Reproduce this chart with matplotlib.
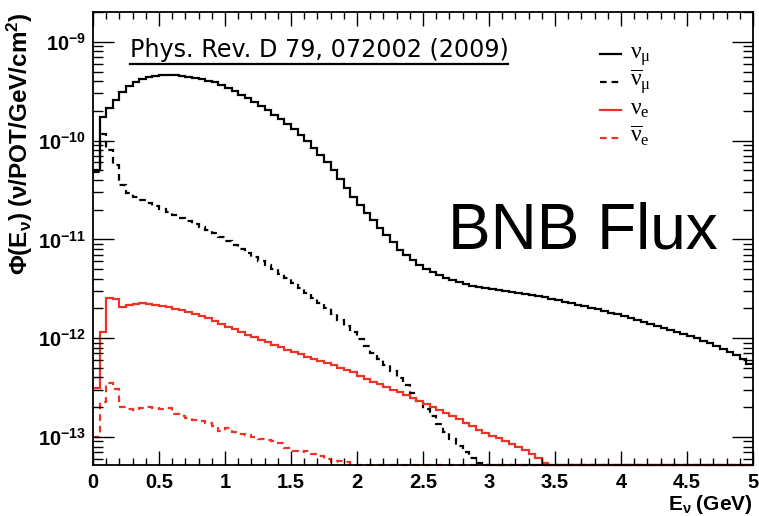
import matplotlib.pyplot as plt
import matplotlib.lines as mlines
import numpy as np

plt.rcParams['font.family'] = 'Liberation Sans'
plt.rcParams['mathtext.fontset'] = 'custom'
plt.rcParams['mathtext.rm'] = 'Liberation Serif'
plt.rcParams['mathtext.it'] = 'Liberation Serif:italic'
plt.rcParams['mathtext.bf'] = 'Liberation Sans:bold'
plt.rcParams['mathtext.default'] = 'rm'

# flux per 0.05 GeV bin, 0 - 5 GeV (zero = empty bin)
numu = [5.06e-11, 1.74e-10, 2.15e-10, 2.59e-10, 3.12e-10, 3.58e-10, 3.94e-10, 4.22e-10, 4.42e-10, 4.53e-10,
        4.63e-10, 4.63e-10, 4.63e-10, 4.53e-10, 4.42e-10, 4.32e-10, 4.22e-10, 4.03e-10, 3.94e-10, 3.67e-10,
        3.42e-10, 3.19e-10, 2.91e-10, 2.71e-10, 2.47e-10, 2.25e-10, 2.05e-10, 1.82e-10, 1.66e-10, 1.48e-10,
        1.32e-10, 1.14e-10, 9.94e-11, 8.45e-11, 7.18e-11, 6.10e-11, 5.06e-11, 4.10e-11, 3.32e-11, 2.69e-11,
        2.24e-11, 1.85e-11, 1.57e-11, 1.31e-11, 1.11e-11, 9.43e-12, 7.83e-12, 6.97e-12, 6.20e-12, 5.52e-12,
        5.03e-12, 4.69e-12, 4.37e-12, 4.08e-12, 3.89e-12, 3.71e-12, 3.54e-12, 3.38e-12, 3.30e-12, 3.23e-12,
        3.15e-12, 3.08e-12, 3.01e-12, 2.94e-12, 2.87e-12, 2.81e-12, 2.74e-12, 2.68e-12, 2.62e-12, 2.50e-12,
        2.44e-12, 2.33e-12, 2.27e-12, 2.17e-12, 2.12e-12, 2.02e-12, 1.98e-12, 1.89e-12, 1.80e-12, 1.76e-12,
        1.68e-12, 1.60e-12, 1.53e-12, 1.46e-12, 1.39e-12, 1.33e-12, 1.27e-12, 1.21e-12, 1.16e-12, 1.10e-12,
        1.05e-12, 1.01e-12, 9.38e-13, 8.95e-13, 8.35e-13, 7.78e-13, 7.26e-13, 6.77e-13, 6.17e-13, 5.48e-13]

numubar = [4.8e-11, 1.17e-10, 8.05e-11, 5.68e-11, 3.56e-11, 2.96e-11, 2.69e-11, 2.51e-11, 2.34e-11, 2.18e-11,
           2.04e-11, 1.90e-11, 1.77e-11, 1.65e-11, 1.54e-11, 1.44e-11, 1.34e-11, 1.25e-11, 1.16e-11, 1.06e-11,
           9.66e-12, 8.80e-12, 8.01e-12, 7.30e-12, 6.65e-12, 6.06e-12, 5.52e-12, 5.03e-12, 4.48e-12, 4.08e-12,
           3.62e-12, 3.23e-12, 2.87e-12, 2.56e-12, 2.27e-12, 2.02e-12, 1.76e-12, 1.53e-12, 1.33e-12, 1.16e-12,
           9.83e-13, 8.35e-13, 7.10e-13, 6.17e-13, 5.36e-13, 4.66e-13, 3.95e-13, 3.36e-13, 2.79e-13, 2.32e-13,
           1.92e-13, 1.63e-13, 1.36e-13, 1.13e-13, 9.55e-14, 8.11e-14, 7.05e-14, 6.12e-14, 5.45e-14] + [0] * 41

nue = [3.13e-13, 1.16e-12, 2.56e-12, 2.50e-12, 2.07e-12, 2.17e-12, 2.22e-12, 2.27e-12, 2.22e-12, 2.17e-12,
       2.12e-12, 2.07e-12, 1.98e-12, 1.93e-12, 1.84e-12, 1.76e-12, 1.68e-12, 1.60e-12, 1.50e-12, 1.39e-12,
       1.30e-12, 1.24e-12, 1.16e-12, 1.08e-12, 1.03e-12, 9.60e-13, 9.16e-13, 8.55e-13, 8.15e-13, 7.60e-13,
       7.26e-13, 6.93e-13, 6.46e-13, 6.17e-13, 5.89e-13, 5.62e-13, 5.36e-13, 5.00e-13, 4.77e-13, 4.55e-13,
       4.15e-13, 3.87e-13, 3.61e-13, 3.44e-13, 3.21e-13, 2.99e-13, 2.86e-13, 2.66e-13, 2.48e-13, 2.32e-13,
       2.16e-13, 2.01e-13, 1.88e-13, 1.75e-13, 1.63e-13, 1.52e-13, 1.39e-13, 1.29e-13, 1.18e-13, 1.10e-13,
       1.02e-13, 9.77e-14, 9.10e-14, 8.49e-14, 7.92e-14, 7.38e-14, 6.73e-14, 6.12e-14, 5.45e-14] + [0] * 31

nuebar = [1.00e-13, 2.26e-13, 3.52e-13, 3.06e-13, 2.01e-13, 1.92e-13, 1.88e-13, 1.97e-13, 2.01e-13, 1.97e-13,
          1.92e-13, 1.97e-13, 1.71e-13, 1.63e-13, 1.56e-13, 1.49e-13, 1.45e-13, 1.39e-13, 1.29e-13, 1.15e-13,
          1.23e-13, 1.12e-13, 1.07e-13, 1.05e-13, 1.00e-13, 9.55e-14, 9.33e-14, 9.10e-14, 8.69e-14, 7.74e-14,
          7.21e-14, 7.05e-14, 7.21e-14, 6.73e-14, 6.42e-14, 5.98e-14, 5.58e-14, 5.71e-14, 5.58e-14] + [0] * 61

labels = [r'$\nu_{\mu}$', r'$\overline{\nu}_{\mu}$', r'$\nu_{e}$', r'$\overline{\nu}_{e}$']

xticks = [0, 0.5, 1, 1.5, 2, 2.5, 3, 3.5, 4, 4.5, 5]
xticklabels = ['0', '0.5', '1', '1.5', '2', '2.5', '3', '3.5', '4', '4.5', '5']
yticks = [1e-13, 1e-12, 1e-11, 1e-10, 1e-9]
yticklabels = [r'$\mathbf{10^{-13}}$', r'$\mathbf{10^{-12}}$', r'$\mathbf{10^{-11}}$',
               r'$\mathbf{10^{-10}}$', r'$\mathbf{10^{-9}}$']

ymin, ymax = 5.2e-14, 2.0e-9
edges = np.linspace(0, 5, 101)
red = '#ec3326'
dash = (0, (3, 2.2))

fig = plt.figure(figsize=(7.59, 5.16), dpi=100)
ax = fig.add_axes([0.1225, 0.0988, 0.8696, 0.8779])


def floor(v):
    v = np.array(v, dtype=float)
    return np.where(v > 0, v, ymin)


ax.stairs(floor(numubar), edges, baseline=None, color='black', lw=1.6, ls=dash, clip_on=False)
ax.stairs(floor(nuebar), edges, baseline=None, color=red, lw=1.6, ls=dash, clip_on=False)
ax.stairs(floor(nue), edges, baseline=None, color=red, lw=1.6, clip_on=False)
ax.stairs(floor(numu), edges, baseline=None, color='black', lw=1.6, clip_on=False)

ax.set_yscale('log')
ax.set_xlim(0, 5)
ax.set_ylim(ymin, ymax)
ax.set_xticks(xticks)
ax.set_xticklabels(xticklabels, fontweight='bold', fontsize=14.5)
ax.set_xticks(np.arange(0, 5.01, 0.1), minor=True)
ax.set_yticks(yticks)
ax.set_yticklabels(yticklabels, fontsize=14.5)
ax.tick_params(which='both', direction='in', top=True, right=True, width=1)
ax.tick_params(axis='x', which='major', length=10, pad=6)
ax.tick_params(axis='x', which='minor', length=5)
ax.tick_params(axis='y', which='major', length=15, pad=5)
ax.tick_params(axis='y', which='minor', length=7.5)
for s in ax.spines.values():
    s.set_linewidth(1.3)

ax.set_xlabel(r'$\mathbf{E_{\nu}\ (GeV)}$', fontsize=15, loc='right')
ax.xaxis.set_label_coords(1.0, -0.062)
ax.set_ylabel(r'$\mathbf{\Phi(E_{\nu})\ (\nu/POT/GeV/cm^{2})}$', fontsize=17.5, loc='top')
ax.yaxis.set_label_coords(-0.088, 1.0)

ax.text(0.0559, 0.9007, 'Phys. Rev. D 79, 072002 (2009)', transform=ax.transAxes,
        fontsize=17.2, family='DejaVu Sans', va='baseline')
ax.add_line(mlines.Line2D([0.0559, 0.629], [0.886, 0.886], transform=ax.transAxes,
                          color='black', lw=1.6))
ax.text(0.538, 0.479, 'BNB Flux', transform=ax.transAxes, fontsize=46, va='baseline')

# legend drawn as ROOT does it: short line sample + label
styles = [('black', '-'), ('black', dash), (red, '-'), (red, dash)]
ly = [0.908, 0.846, 0.784, 0.722]
for lab, (c, s), y in zip(labels, styles, ly):
    ax.add_line(mlines.Line2D([0.768, 0.800], [y, y], transform=ax.transAxes,
                              color=c, ls=s, lw=1.6))
    ax.text(0.813, y - 0.011, lab, transform=ax.transAxes, fontsize=17, va='baseline')

fig.savefig('out.png', dpi=100)
